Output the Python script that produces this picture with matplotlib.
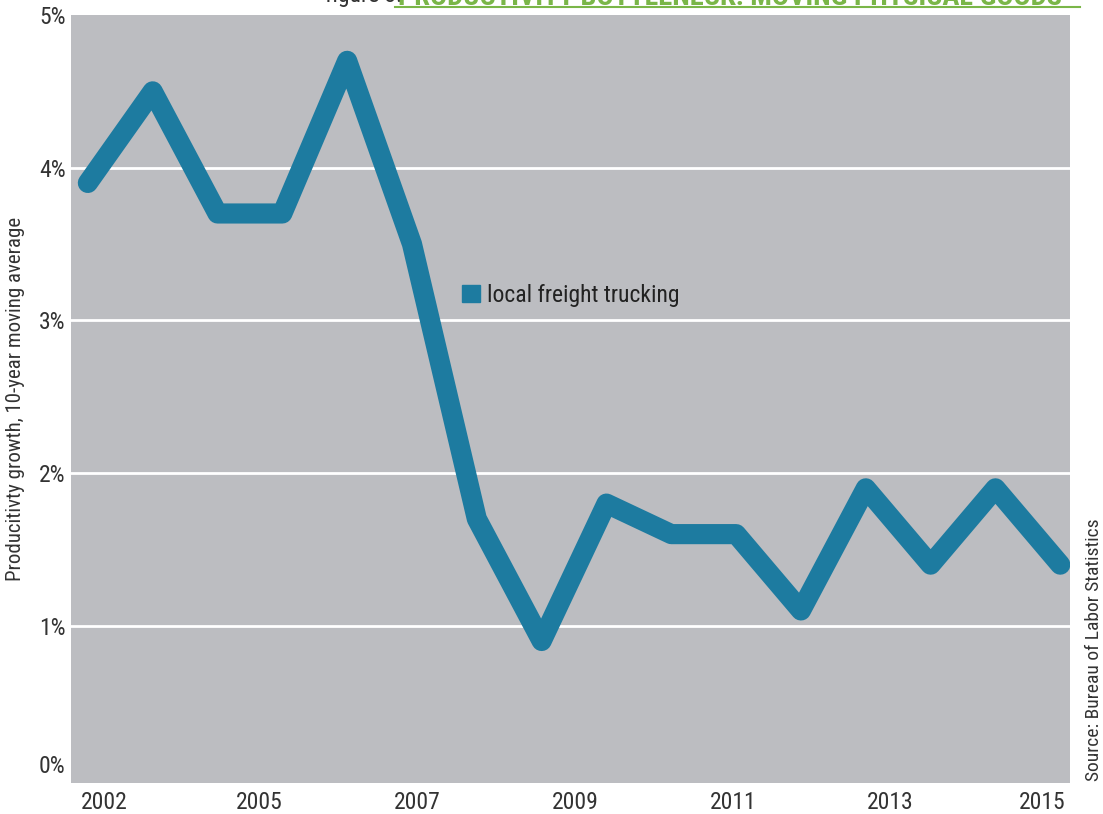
import matplotlib.pyplot as plt
from matplotlib.patches import Patch
from matplotlib import font_manager

# dados (crescimento da produtividade, média móvel de 10 anos)
values = [3.9, 4.5, 3.7, 3.7, 4.7, 3.5, 1.7, 0.9, 1.8, 1.6, 1.6, 1.1, 1.9, 1.4, 1.9, 1.4]
year_labels = ["2002", "2005", "2007", "2009", "2011", "2013", "2015"]
year_pos = [0.25, 2.64, 5.08, 7.52, 9.95, 12.38, 14.72]
y_ticks = [0, 1, 2, 3, 4, 5]
y_labels = ["0%", "1%", "2%", "3%", "4%", "5%"]
grid_levels = [1, 2, 3, 4]

names = {f.name for f in font_manager.fontManager.ttflist}
cond = [n for n in ["Liberation Sans Narrow", "DejaVu Sans Condensed", "Roboto Condensed",
                    "Open Sans Condensed"] if n in names]
plt.rcParams['font.family'] = cond + ['DejaVu Sans']
plt.rcParams['font.stretch'] = 'condensed'

fig = plt.figure(figsize=(11.03, 8.14), dpi=100)
ax = fig.add_axes([71 / 1103, 1 - 783 / 814, (1070 - 71) / 1103, (783 - 15) / 814])
ax.set_facecolor("#bcbdc1")

for g in grid_levels:
    ax.axhline(g, color="white", linewidth=2, zorder=1)

x = list(range(len(values)))
ax.plot(x, values, color="#1d7ba0", linewidth=14.5,
        solid_joinstyle="round", solid_capstyle="round", zorder=3)

ax.set_xlim(-0.26, 15.15)
ax.set_ylim(-0.03, 5)
ax.set_yticks(y_ticks)
ax.set_yticklabels(y_labels)
ax.set_xticks(year_pos)
ax.set_xticklabels(year_labels)
ax.tick_params(axis="both", length=0, labelsize=17, colors="#333333")
ax.tick_params(axis="y", pad=4)
ax.tick_params(axis="x", pad=6)
# o rótulo 0% fica um pouco acima da base no original
ax.get_yticklabels()[0].set_verticalalignment("bottom")
for s in ax.spines.values():
    s.set_visible(False)

ax.set_ylabel("Producitivty growth, 10-year moving average", fontsize=15,
              color="#333333", labelpad=10)

ax.legend(handles=[Patch(color="#1d7ba0", label="local freight trucking")],
          loc="center left", bbox_to_anchor=(0.37, 0.635), frameon=False,
          fontsize=17, handlelength=0.75, handleheight=0.75, handletextpad=0.3,
          labelcolor="#222222")

fig.text(0.992, 0.04, "Source: Bureau of Labor Statistics", rotation=90,
         fontsize=14, color="#333333", ha="center", va="bottom")

# título cortado no topo
fig.text(325 / 1103, 1.006, "figure 3:", fontsize=17, color="#333333",
         ha="left", va="center")
fig.text(398 / 1103, 1.003, "PRODUCTIVITY BOTTLENECK: MOVING PHYSICAL GOODS",
         fontsize=20.5, fontweight="bold", color="#7ab648", ha="left", va="center")
fig.add_artist(plt.Line2D([395 / 1103, 1080 / 1103], [1 - 7 / 814, 1 - 7 / 814],
                          color="#7ab648", linewidth=1.5))

plt.savefig("out.png", dpi=100)
